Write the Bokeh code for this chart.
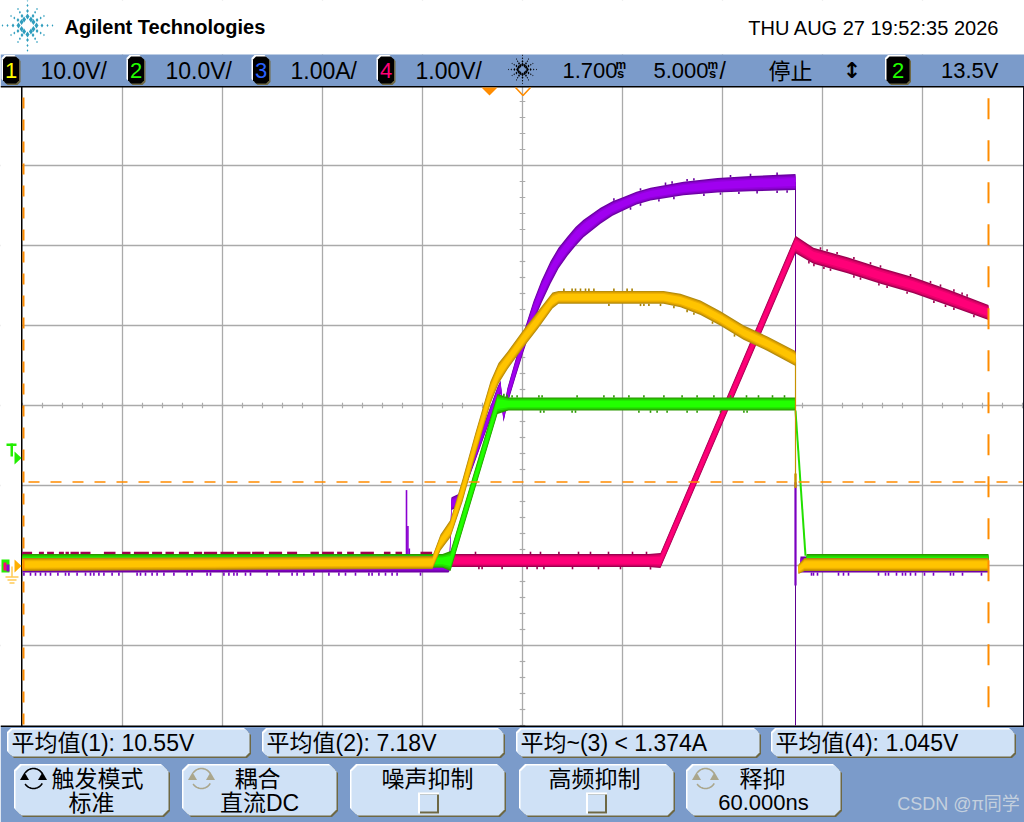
import numpy as np
from bokeh.core.properties import value
from bokeh.embed import file_html
from bokeh.models import FixedTicker, Range1d
from bokeh.plotting import figure
from bokeh.resources import INLINE

# ---------- scope settings ----------
time_per_div_ms = 5.0
delay_ms = 1.7
ch1_v_per_div = 10.0
ch2_v_per_div = 10.0
ch3_a_per_div = 1.0
ch4_v_per_div = 1.0
ch1_ground_div = -1.9875
ch2_ground_div = -1.9875
ch3_ground_div = -1.9875
ch4_ground_div = -1.9375
trigger_line_div = -0.956
cursor_start_ms = -23.25
cursor_stop_ms = 25.0
record_start_ms = -23.3
record_stop_ms = 25.0

# ---------- channel 1 (V), orange ----------
ch1_t = [-23.3, -2.8, -2.4, -1.9, -1.3, -0.65, 0.1, 0.5, 0.95, 1.75, 2.45, 3.2, 3.5, 8.75, 9.6, 10.6, 11.6, 12.75, 13.95, 15.35]
ch1_v = [0, 0.25, 2.75, 4.5, 9.25, 15.1, 21.5, 23.9, 25.5, 28.25, 30.5, 33.0, 33.4, 33.4, 33.0, 32.1, 30.75, 29.0, 27.6, 25.75]
ch1_spread = [0.8, 0.8, 1.0, 1.1, 1.4, 1.4, 1.4, 1.3, 1.1, 1.1, 1.1, 1.0, 0.8, 0.8, 0.85, 0.9, 0.9, 0.9, 0.9, 0.95]
ch1_tail_t = [15.5, 15.8, 25.0]
ch1_tail_v = [-0.6, 0, 0]
ch1_tail_spread = [0.6, 0.8, 0.8]
ch1_hi_ticks = [3.77, 4.18, 4.35, 4.6, 4.85, 5.02, 5.27, 6.27, 6.93, 7.18]
ch1_lo_ticks = [6.02, 7.6, 7.77, 8.02, 8.6, 9.27, 9.93, 10.27, 11.2, 12.3]

# ---------- channel 2 (V), green ----------
ch2_t = [-23.3, -2.3, -1.9, 0.45, 1.0, 15.35]
ch2_v = [0.45, 0.45, 0.45, 20.06, 20.06, 20.06]
ch2_spread = [0.85, 0.85, 1.25, 1.25, 0.8, 0.8]
ch2_fall_t = [15.35, 15.85]
ch2_fall_v = [19.25, 1.1]
ch2_tail_t = [15.9, 25.0]
ch2_tail_v = [0.45, 0.45]
ch2_tail_spread = [0.85, 0.85]
ch2_hi_ticks = [0.77, 0.93, 1.18, 1.43, 2.52, 2.68, 4.43, 5.77, 6.27, 7.02, 7.77, 8.77, 9.68, 10.43, 11.27, 12.1, 12.9, 13.5, 14.2, 14.8]
ch2_lo_ticks = [2.6, 2.77, 4.18, 4.35, 7.52, 8.1, 8.43, 8.93, 9.93, 10.43, 11.6, 12.77, 12.93]

# ---------- channel 3 (A), purple ----------
ch3_t = [-23.3, -2.0, -1.95, -1.85, -1.5, 0.45, 0.6, 0.75, 0.95, 1.35, 1.75, 2.25, 2.65, 3.1, 3.5, 3.95, 4.35, 4.75, 5.6, 6.2, 6.75, 7.4, 8.1, 9.75, 11.45, 13.1, 15.35]
ch3_a = [0, 0, 0, 0.76, 0.80, 2.14, 2.22, 1.86, 2.11, 2.45, 2.78, 3.16, 3.41, 3.65, 3.83, 3.98, 4.1, 4.2, 4.36, 4.45, 4.51, 4.58, 4.63, 4.7, 4.74, 4.76, 4.78]
ch3_spread = [0.1, 0.1, 0.08, 0.08, 0.08, 0.08, 0.08, 0.08, 0.1, 0.11, 0.12, 0.13, 0.14, 0.14, 0.13, 0.12, 0.12, 0.11, 0.1, 0.09, 0.085, 0.08, 0.08, 0.085, 0.09, 0.095, 0.1]
ch3_tail_t = [15.6, 25.0]
ch3_tail_a = [0, 0]
ch3_tail_spread = [0.1, 0.1]
ch3_spike_t = [-4.1, -4.03, -3.96]
ch3_spike_a = [0.93, 0.48, 0.2]
ch3_hi_ticks = [6.27, 7.6, 8.85, 9.18, 9.93, 10.27, 12.1, 13.1, 14.43]
ch3_lo_ticks = [7.1, 7.6, 8.52, 9.27, 10.77, 11.6, 12.52, 13.43, 14.43, 14.93]
ch3_base_ticks = [-23.23, -22.9, -22.65, -22.4, -22.15, -21.9, -21.53, -21.15, -20.98, -20.57, -20.15, -19.9, -19.73,
                  -19.48, -19.23, -18.82, -18.48, -17.57, -17.4, -17.15, -16.82, -16.57, -16.23, -15.73, -15.07, -14.82,
                  -14.07, -13.9, -13.23, -12.98, -12.73, -12.57, -12.15, -11.9, -11.07, -10.48, -9.82, -9.57, -9.23,
                  -8.73, -7.98, -7.48, -7.15, -6.65, -5.98, -5.82, -5.48, -5.15, -4.82, -4.57, -3.4,
                  16.15, 16.25, 16.45, 17.5, 17.75, 18.0, 19.5, 19.85, 20.0, 20.4, 20.7, 20.85, 21.1, 21.35, 21.8,
                  22.25, 23.1, 23.25, 23.7, 24.65]

# ---------- channel 4 (V), pink ----------
ch4_t = [-23.3, 8.0, 8.6, 15.35, 16.25, 17.95, 19.6, 21.25, 22.95, 25.0]
ch4_v = [0, 0, 0, 3.95, 3.81, 3.69, 3.56, 3.44, 3.29, 3.1]
ch4_spread = [0.08, 0.08, 0.095, 0.11, 0.1, 0.1, 0.1, 0.1, 0.1, 0.095]
ch4_hi_ticks = [-0.65, 2.1, 2.6, 3.52, 4.5, 5.1, 6.0, 7.2, 7.9, 16.6, 16.93, 17.43, 18.27, 19.1, 19.6, 21.1, 22.1, 22.6, 23.27, 23.68, 23.93]
ch4_lo_ticks = [-0.48, -0.32, 0.68, 1.93, 2.43, 2.77, 4.2, 5.5, 6.6, 8.1, 16.02, 16.27, 16.77, 17.1, 18.27, 18.6, 19.52, 19.93, 20.93, 22.27, 22.85, 23.27, 24.27]
ch4_block_start = [-23.32, -22.48, -22.07, -21.48, -21.15, -20.9, -20.4, -19.23, -18.32, -17.73, -16.82, -16.15, -15.48, -14.73, -14.23, -13.4, -12.57, -11.82, -10.98, -10.07, -8.9, -8.32, -7.57, -7.07, -6.4, -5.23, -4.65, -3.4]
ch4_block_stop = [-22.82, -22.23, -21.73, -21.23, -20.98, -20.48, -19.9, -18.65, -17.9, -16.98, -16.32, -15.73, -14.98, -14.32, -13.57, -12.73, -11.9, -11.23, -10.32, -9.57, -8.48, -7.73, -7.32, -6.73, -5.73, -4.9, -4.32, -2.82]

# ---------- labels ----------
channel_numbers = ["1", "2", "3", "4"]
channel_scales = ["10.0V/", "10.0V/", "1.00A/", "1.00V/"]
measurements = ["平均值(1): 10.55V", "平均值(2): 7.18V", "平均~(3) < 1.374A", "平均值(4): 1.045V"]
brand = "Agilent Technologies"
timestamp = "THU AUG 27 19:52:35 2026"
delay_text = "1.700"
base_text = "5.000"
run_state = "停止"
trigger_level = "13.5V"
watermark = "CSDN @π同学"

LATIN = value("Liberation Sans")
MIXED = value("Liberation Sans, Noto Sans CJK SC")
BAND = "#7b9bca"
FACE = "#cfe1f6"
EDGE = "#6e6844"

p = figure(width=1024, height=822, output_backend="svg", toolbar_location=None,
           x_range=Range1d(-24.4, 26.8), y_range=Range1d(-5.2125, 5.0625),
           min_border=0, background_fill_color="white", border_fill_color="white",
           outline_line_color=None)
p.extra_x_ranges["px"] = Range1d(0, 1024)
p.extra_y_ranges["px"] = Range1d(822, 0)
p.xaxis.visible = False
p.yaxis.visible = False
p.xgrid.ticker = FixedTicker(ticks=[delay_ms + time_per_div_ms * k for k in range(-4, 5)])
p.ygrid.ticker = FixedTicker(ticks=list(range(-3, 4)))
for g in (p.xgrid, p.ygrid):
    g.grid_line_color = "#aaaaaa"
    g.grid_line_width = 1.3
PX = dict(x_range_name="px", y_range_name="px")


def box(x0, y0, x1, y1, color):
    p.quad(left=x0, right=x1, top=y0, bottom=y1, fill_color=color, line_color=None, **PX)


def rounded(x0, y0, x1, y1, r=4):
    return ([x0 + r, x1 - r, x1, x1, x1 - r, x0 + r, x0, x0],
            [y0, y0, y0 + r, y1 - r, y1, y1, y1 - r, y0 + r])


def raised(x0, y0, x1, y1, face=FACE, r=4):
    for off, col in ((1.5, EDGE), (-1.5, "white")):
        xs, ys = rounded(x0 + off, y0 + off, x1 + off, y1 + off, r)
        p.patch(xs, ys, fill_color=col, line_color=None, **PX)
    xs, ys = rounded(x0, y0, x1, y1, r)
    p.patch(xs, ys, fill_color=face, line_color=None, **PX)


def label(x, y, text, size=22, color="black", align="left", font=MIXED, style="normal"):
    p.text([x], [y], text=[text], text_font=font, text_font_size=f"{size}px", text_color=color,
           text_align=align, text_baseline="middle", text_font_style=style, **PX)


def spark(cx, cy, color, long_r, short_r, size):
    xs, ys, ss = [], [], []
    for k in range(12):
        a = k * np.pi / 6
        reach = long_r if k % 3 == 0 else short_r
        for r, s in ((0.36, 1.0), (0.58, 0.7), (0.8, 0.5), (1.0, 0.4)):
            xs.append(cx + reach * r * np.cos(a))
            ys.append(cy + reach * r * np.sin(a))
            ss.append(size * s)
    p.scatter(xs, ys, size=ss, marker="diamond", color=color, line_color=None, **PX)


def dial(cx, cy, color):
    a = np.linspace(0, 2 * np.pi, 50)
    mask = ~((np.abs(a - np.pi) < 0.5) | (a < 0.5) | (a > 2 * np.pi - 0.5))
    xs, ys = cx + 10 * np.cos(a), cy + 10 * np.sin(a)
    xs[~mask] = np.nan
    ys[~mask] = np.nan
    p.line(xs, ys, line_color=color, line_width=1.6, **PX)


# ---------- chrome ----------
box(0, 0, 1024, 54, "white")
box(0, 54, 1024, 86, BAND)
box(0, 86, 21, 726, "white")
box(0, 726, 1024, 822, BAND)
box(0, 85.5, 1024, 87, "black")
box(0, 725, 1024, 726.5, "black")
box(20.5, 86, 22, 726, "black")
box(1022.5, 86, 1024, 726, "#101020")

spark(27, 25, "#2f9dbd", 25, 19, 6)
label(64, 26, brand, size=20, font=LATIN, style="bold")
label(999, 27, timestamp, size=20, align="right")

for i, (num, col, scale) in enumerate(zip(channel_numbers, ["#ffff00", "#22ff00", "#2a62ff", "#ff0078"], channel_scales)):
    x0 = 2.5 + 125 * i
    raised(x0, 56, x0 + 16, 83, face="black", r=3)
    label(x0 + 8, 70, num, size=22, color=col, align="center")
    label(40 + 125 * i, 70, scale, size=23)

spark(522, 69, "black", 14, 12, 4)
label(562, 70, delay_text, size=22)
label(615, 64.5, "m", size=12, font=LATIN, style="bold")
label(616.5, 73, "s", size=13, font=LATIN, style="bold")
label(653, 70, base_text, size=22)
label(707, 64.5, "m", size=12, font=LATIN, style="bold")
label(708.5, 73, "s", size=13, font=LATIN, style="bold")
label(719, 70, "/", size=23)
label(768, 71, run_state, size=22)
label(851.5, 70, "↕", size=22, align="center", font=value("DejaVu Sans"), style="bold")
raised(886, 56, 909, 83, face="black", r=3)
label(897.5, 70, channel_numbers[1], size=22, color="#22ff00", align="center")
label(998, 70, trigger_level, size=22, align="right")

for x0, x1, text in zip([8, 263, 517, 772], [249, 503, 759, 1014], measurements):
    raised(x0, 729, x1, 756)
    label(x0 + 3, 742, text, size=23)

for x0 in (15, 183, 351, 520, 687):
    raised(x0, 765, x0 + 153, 815, r=6)

label(97, 778, "触发模式", size=23, align="center")
label(91, 802, "标准", size=23, align="center")
label(257, 778, "耦合", size=23, align="center")
label(259, 802, "直流DC", size=23, align="center")
label(427, 778, "噪声抑制", size=23, align="center")
label(594, 778, "高频抑制", size=23, align="center")
label(762, 778, "释抑", size=23, align="center")
label(763, 802, "60.000ns", size=22, align="center")
label(958, 803, watermark, size=18, color="#c4d0de", align="center")

for x0 in (417.5, 585.5):
    box(x0, 792, x0 + 21, 813, "white")
    box(x0 + 2, 794, x0 + 21, 813, EDGE)
    box(x0 + 2, 794, x0 + 19, 811, FACE)

for cx, col in ((33, "black"), (201, "#aaa68c"), (705, "#aaa68c")):
    dial(cx, 778, col)
    p.scatter([cx - 9, cx + 9], [777, 777], size=9, marker="triangle", color=col, line_color=None, **PX)


# ---------- traces ----------
def band(t, center, spread, colors):
    t, center, spread = map(np.asarray, (t, center, spread))
    for frac, col in zip((1.0, 0.85, 0.7, 0.5), colors):
        p.varea(t, center + frac * spread, center - frac * spread, fill_color=col, fill_alpha=1.0)


def ticks(tick_t, t, center, spread, side, length, color):
    tick_t = np.asarray(tick_t)
    c = np.interp(tick_t, t, center)
    s = np.interp(tick_t, t, spread)
    start = c + side * s
    p.segment(tick_t, start, tick_t, start + side * length, line_color=color, line_width=1.6)


def d1(v): return np.asarray(v, float) / ch1_v_per_div + ch1_ground_div
def d2(v): return np.asarray(v, float) / ch2_v_per_div + ch2_ground_div
def d3(v): return np.asarray(v, float) / ch3_a_per_div + ch3_ground_div
def d4(v): return np.asarray(v, float) / ch4_v_per_div + ch4_ground_div


PINK = ("#9c0050", "#c80060", "#e8006c", "#ff0078")
PURPLE = ("#6a00a0", "#8000c0", "#9200dc", "#a000f0")
GREEN = ("#2a9a00", "#24c000", "#22e000", "#22ff00")
ORANGE = ("#b08a10", "#d49c00", "#eeb000", "#ffc400")

# channel 3, purple
p.segment([ch3_t[-1]], [d3(ch3_a[-1])], [ch3_t[-1]], [-4.0], line_color="#5f0090", line_width=1.0)
p.segment([ch3_t[-1]], [-0.96], [ch3_t[-1]], [-2.25], line_color="#7a00c0", line_width=2.2)
p.segment(ch3_spike_t, d3(np.zeros(3)), ch3_spike_t, d3(ch3_spike_a), line_color="#8a00d0", line_width=1.6)
s3 = np.asarray(ch3_spread) / ch3_a_per_div
band(ch3_t, d3(ch3_a), s3, PURPLE)
band(ch3_tail_t, d3(ch3_tail_a), np.asarray(ch3_tail_spread), PURPLE)
ticks(ch3_hi_ticks, ch3_t, d3(ch3_a), s3, 1, 0.03, "#6a00a0")
ticks(ch3_lo_ticks, ch3_t, d3(ch3_a), s3, -1, 0.03, "#6a00a0")
base_t = [record_start_ms, record_stop_ms]
ticks(ch3_base_ticks, base_t, d3([0, 0]), [0.1, 0.1], -1, 0.04, "#7a00c0")

# channel 4, pink
s4 = np.asarray(ch4_spread) / ch4_v_per_div
p.quad(left=ch4_block_start, right=ch4_block_stop,
       top=d4(0.11), bottom=d4(0.05), fill_color="#a00050", line_color=None)
band(ch4_t, d4(ch4_v), s4, PINK)
ticks(ch4_hi_ticks, ch4_t, d4(ch4_v), s4, 1, 0.03, "#9c0050")
ticks(ch4_lo_ticks, ch4_t, d4(ch4_v), s4, -1, 0.03, "#9c0050")

# channel 2, green
s2 = np.asarray(ch2_spread) / ch2_v_per_div
band(ch2_t, d2(ch2_v), s2, GREEN)
band(ch2_tail_t, d2(ch2_tail_v), np.asarray(ch2_tail_spread) / ch2_v_per_div, GREEN)
p.line(ch2_fall_t, d2(ch2_fall_v), line_color="#22e000", line_width=2)
ticks(ch2_hi_ticks, ch2_t, d2(ch2_v), s2, 1, 0.03, "#2a9a00")
ticks(ch2_lo_ticks, ch2_t, d2(ch2_v), s2, -1, 0.03, "#2a9a00")

# channel 1, orange
s1 = np.asarray(ch1_spread) / ch1_v_per_div
p.segment([ch1_t[-1]], [d1(ch1_v[-1])], [ch1_t[-1]], [-0.96], line_color="#c89200", line_width=1.2)
p.segment([ch1_t[-1]], [-0.85], [ch1_t[-1]], [-1.03], line_color="#c89200", line_width=2.4)
band(ch1_t, d1(ch1_v), s1, ORANGE)
band(ch1_tail_t, d1(ch1_tail_v), np.asarray(ch1_tail_spread) / ch1_v_per_div, ORANGE)
ticks(ch1_hi_ticks, ch1_t, d1(ch1_v), s1, 1, 0.03, "#a88000")
ticks(ch1_lo_ticks, ch1_t, d1(ch1_v), s1, -1, 0.03, "#a88000")

# ---------- centre graticule ticks ----------
tick_t = record_start_ms + np.arange(0, 51)
p.segment(tick_t, -0.035, tick_t, 0.035, line_color="#aaaaaa", line_width=1.2, level="underlay")
tick_y = -4 + 0.2 * np.arange(0, 41)
p.segment(delay_ms - 0.14, tick_y, delay_ms + 0.14, tick_y, line_color="#aaaaaa", line_width=1.2, level="underlay")

# ---------- cursors and markers ----------
CUR = "#ff8c00"
p.line([cursor_start_ms, cursor_start_ms], [3.85, -4], line_color=CUR, line_width=2, line_dash="11 11")
p.line([cursor_stop_ms, cursor_stop_ms], [3.84, -4], line_color=CUR, line_width=2, line_dash="21 21")
p.line([-23.0, 26.7], [trigger_line_div, trigger_line_div], line_color=CUR, line_width=1.4, line_dash="11 11")

p.patch([481, 497, 489], [87, 87, 95], fill_color=CUR, line_color=None, **PX)
p.line([515, 522.5, 530], [87, 95, 87], line_color=CUR, line_width=1.6, **PX)

# trigger and ground markers
box(6, 443, 16, 445.5, "#22ee00")
box(10, 443, 12.5, 456, "#22ee00")
p.patch([14, 21, 14], [451, 457.5, 464], fill_color="#22ee00", line_color=None, **PX)
p.patch([14, 21, 14], [559, 565.5, 572], fill_color="#ffb000", line_color=None, **PX)
box(1, 559, 9, 572, "#22ee00")
box(3, 562, 6, 570, "#ff0078")
box(6, 564, 9, 571, "#9000d0")
box(11, 566, 12, 576, "#ffb000")
box(5, 576, 18, 577, "#ffb000")
box(7, 579, 16, 580, "#ffb000")
box(9, 582, 14, 583, "#ffb000")

open("out.html", "w").write(file_html(p, INLINE))
